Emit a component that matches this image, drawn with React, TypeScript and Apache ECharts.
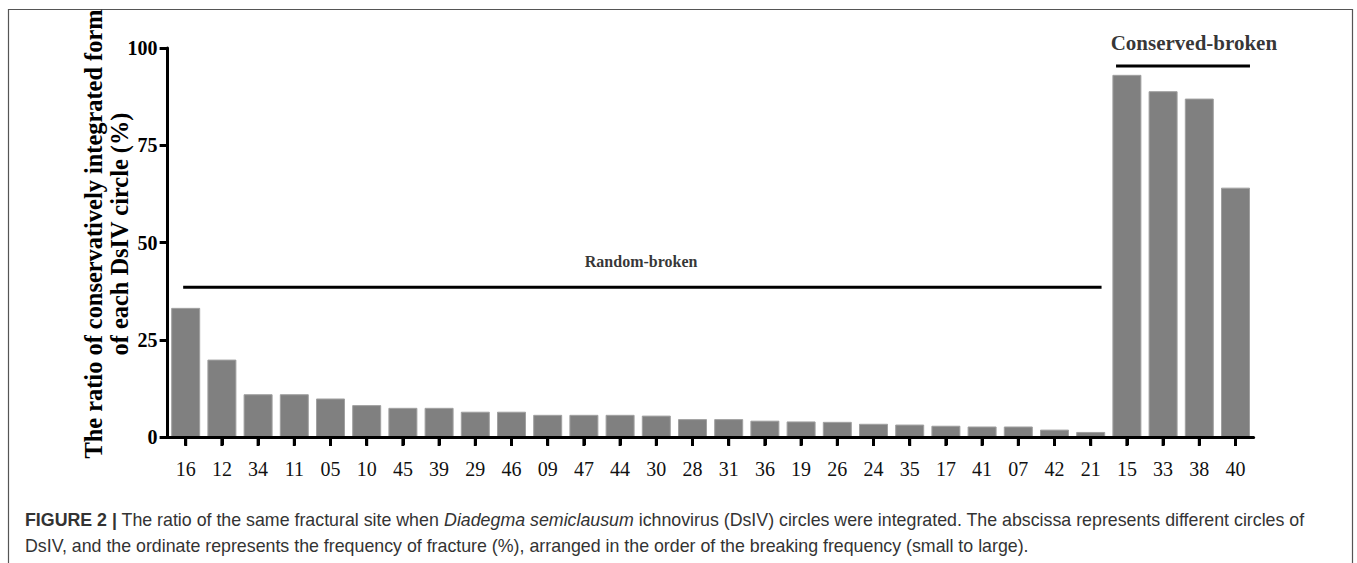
import React, { useEffect, useRef } from "react";
import * as echarts from "echarts";

const categories = ["16", "12", "34", "11", "05", "10", "45", "39", "29", "46", "09", "47", "44", "30", "28", "31", "36", "19", "26", "24", "35", "17", "41", "07", "42", "21", "15", "33", "38", "40"];
const ratios = [33.2, 19.9, 11.0, 11.0, 9.9, 8.2, 7.5, 7.5, 6.5, 6.5, 5.7, 5.7, 5.7, 5.5, 4.6, 4.6, 4.2, 4.0, 3.9, 3.4, 3.2, 2.9, 2.7, 2.7, 1.9, 1.3, 93.1, 88.9, 87.0, 64.1];
const yMin = 0;
const yMax = 100;
const yInterval = 25;
const tickMarks = categories.map(() => 1);
const randomBracket = [[-0.07, 38.5], [25.3, 38.5]];
const conservedBracket = [[25.7, 95.4], [29.4, 95.4]];
const randomLabel = [{ name: "Random-broken", value: [12.58, 45.0] }];
const conservedLabel = [{ name: "Conserved-broken", value: [27.85, 101.3] }];
const yTitle = "The ratio of conservatively integrated form\nof each DsIV circle (%)";
const captionLine1 = "{b|FIGURE 2 |} The ratio of the same fractural site when {i|Diadegma semiclausum} ichnovirus (DsIV) circles were integrated. The abscissa represents different circles of";
const captionLine2 = "DsIV, and the ordinate represents the frequency of fracture (%), arranged in the order of the breaking frequency (small to large).";

const serif = "'Liberation Serif', 'Times New Roman', serif";
const sans = "'Liberation Sans', Arial, sans-serif";
const capSize = 17.8;

function labelSeries(data: any[], size: number) {
  return {
    type: "scatter",
    xAxisIndex: 1,
    yAxisIndex: 0,
    symbolSize: 0,
    clip: false,
    data,
    label: {
      show: true,
      position: "inside",
      formatter: (p: any) => p.name,
      color: "#000",
      fontFamily: serif,
      fontWeight: "bold",
      fontSize: size,
    },
  };
}

export default function App() {
  const ref = useRef<HTMLDivElement>(null);
  useEffect(() => {
    if (!ref.current) return;
    const chart = echarts.init(ref.current, null, { renderer: "svg" });
    chart.setOption({
      animation: false,
      backgroundColor: "#ffffff",
      textStyle: { fontFamily: serif },
      grid: [
        { left: 167.6, top: 48, width: 1086, height: 389, containLabel: false },
        { left: 167.6, top: 437, width: 1086, height: 9, containLabel: false },
      ],
      xAxis: [
        {
          type: "category",
          gridIndex: 0,
          data: categories,
          position: "bottom",
          boundaryGap: true,
          axisLine: { show: true, onZero: false, lineStyle: { color: "#000", width: 3 } },
          axisTick: { show: true, interval: 0, alignWithLabel: true, length: 8, lineStyle: { color: "#000", width: 3 } },
          axisLabel: { show: true, color: "#111", fontFamily: serif, fontSize: 20, margin: 22, interval: 0 },
          splitLine: { show: false },
          z: 5,
        },
        { type: "value", gridIndex: 0, min: -0.5, max: 29.5, show: false, position: "top" },
        { type: "category", gridIndex: 1, data: categories, boundaryGap: true, show: false },
      ],
      yAxis: [
        {
          type: "value",
          gridIndex: 0,
          min: yMin,
          max: yMax,
          interval: yInterval,
          position: "left",
          axisLine: { show: true, onZero: false, lineStyle: { color: "#000", width: 3 } },
          axisTick: { show: true, length: 8, lineStyle: { color: "#000", width: 3 } },
          axisLabel: { color: "#000", fontFamily: serif, fontSize: 20, fontWeight: "bold", margin: 10 },
          splitLine: { show: false },
        },
        { type: "value", gridIndex: 1, min: 0, max: 1, inverse: true, show: false },
      ],
      series: [
        {
          type: "bar",
          xAxisIndex: 0,
          yAxisIndex: 0,
          data: ratios,
          barWidth: 29,
          itemStyle: { color: "#808080", borderColor: "#a0a0a0", borderWidth: 1 },
        },
        {
          type: "bar",
          xAxisIndex: 2,
          yAxisIndex: 1,
          data: tickMarks,
          barWidth: 3,
          silent: true,
          itemStyle: { color: "#000" },
        },
        {
          type: "line",
          xAxisIndex: 1,
          yAxisIndex: 0,
          data: randomBracket,
          symbol: "none",
          lineStyle: { color: "#000", width: 3 },
        },
        {
          type: "line",
          xAxisIndex: 1,
          yAxisIndex: 0,
          data: conservedBracket,
          symbol: "none",
          lineStyle: { color: "#000", width: 3 },
          clip: false,
        },
        labelSeries(randomLabel, 16),
        labelSeries(conservedLabel, 21),
      ],
      graphic: [
        {
          type: "rect",
          shape: { x: 8.5, y: 9.5, width: 1344, height: 600 },
          style: { fill: "none", stroke: "#555", lineWidth: 1.2 },
          silent: true,
        },
        {
          type: "text",
          x: 106.5,
          y: 234,
          rotation: Math.PI / 2,
          style: {
            text: yTitle,
            fill: "#000",
            font: `bold 24.4px ${serif}`,
            align: "center",
            verticalAlign: "middle",
            lineHeight: 26,
          },
        },
        {
          type: "text",
          x: 25,
          y: 520,
          style: {
            text: captionLine1,
            fill: "#333",
            font: `${capSize}px ${sans}`,
            verticalAlign: "middle",
            rich: {
              b: { fontWeight: "bold", fontFamily: sans, fontSize: capSize, fill: "#333" },
              i: { fontStyle: "italic", fontFamily: sans, fontSize: capSize, fill: "#333" },
            },
          },
        },
        {
          type: "text",
          x: 25,
          y: 546,
          style: {
            text: captionLine2,
            fill: "#333",
            font: `${capSize}px ${sans}`,
            verticalAlign: "middle",
          },
        },
      ],
    });
    return () => chart.dispose();
  }, []);
  return <div ref={ref} style={{ position: "fixed", left: 0, top: 0, width: 1357, height: 563 }} />;
}
